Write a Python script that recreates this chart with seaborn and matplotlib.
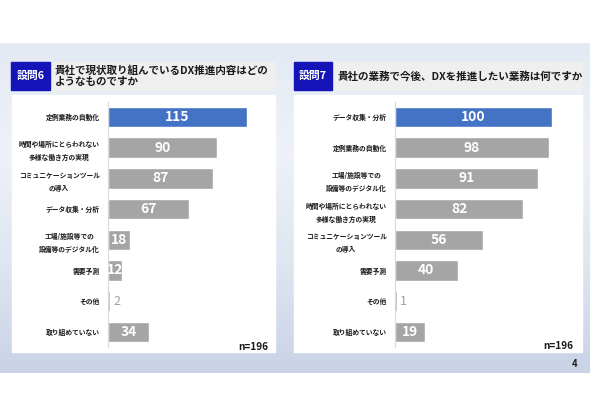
import numpy as np
import matplotlib
matplotlib.use("Agg")
import matplotlib.pyplot as plt
import matplotlib.patches as mpatches
import seaborn as sns

# --- data ---
q6_title = "貴社で現状取り組んでいるDX推進内容はどの\nようなものですか"
q6_items = ["定例業務の自動化", "時間や場所にとらわれない\n多様な働き方の実現",
            "コミュニケーションツール\nの導入", "データ収集・分析",
            "工場/施設等での\n設備等のデジタル化", "需要予測", "その他", "取り組めていない"]
q6_counts = [115, 90, 87, 67, 18, 12, 2, 34]

q7_title = "貴社の業務で今後、DXを推進したい業務は何ですか"
q7_items = ["データ収集・分析", "定例業務の自動化", "工場/施設等での\n設備等のデジタル化",
            "時間や場所にとらわれない\n多様な働き方の実現", "コミュニケーションツール\nの導入",
            "需要予測", "その他", "取り組めていない"]
q7_counts = [100, 98, 91, 82, 56, 40, 1, 19]

n_label = "n=196"
page_no = "4"

sns.set_theme(style="white")
plt.rcParams["font.family"] = ["Noto Sans CJK JP", "DejaVu Sans"]

W, H = 590, 417
fig = plt.figure(figsize=(W / 100, H / 100), dpi=100)
fig.patch.set_facecolor("white")


def fig_rect(x0, y0, x1, y1):
    # pixel box (top-left origin) -> figure fraction [l, b, w, h]
    return [x0 / W, 1 - y1 / H, (x1 - x0) / W, (y1 - y0) / H]


# background layer in pixel coordinates
bg = fig.add_axes([0, 0, 1, 1])
bg.set_xlim(0, W)
bg.set_ylim(H, 0)
bg.axis("off")

grad = np.linspace(0, 1, 100)[:, None]
cmap = matplotlib.colors.LinearSegmentedColormap.from_list(
    "slide", ["#e3eaf4", "#eef2f8", "#dfe6f1", "#c9d3e6"])
bg.imshow(grad, extent=(0, W, 373, 43), aspect="auto", cmap=cmap, zorder=0)

BLUE_BOX = "#1414b8"
TITLE_BG = "#efefef"

panels = [
    dict(box=(11, 62, 50, 90), title_bg=(50, 62, 275, 90), white=(12, 95, 275, 352),
         qnum="設問6", title=q6_title, title_x=55, axis_x=108, right=275,
         n_x=268, n_y=347, items=q6_items, counts=q6_counts),
    dict(box=(294, 62, 332, 90), title_bg=(332, 62, 582, 90), white=(294, 95, 582, 352),
         qnum="設問7", title=q7_title, title_x=338, axis_x=395, right=582,
         n_x=573, n_y=346, items=q7_items, counts=q7_counts),
]

for p in panels:
    x0, y0, x1, y1 = p["white"]
    bg.add_patch(mpatches.Rectangle((x0, y0), x1 - x0, y1 - y0, color="white", zorder=1))
    x0, y0, x1, y1 = p["title_bg"]
    bg.add_patch(mpatches.Rectangle((x0, y0), x1 - x0, y1 - y0, color=TITLE_BG, zorder=1))
    x0, y0, x1, y1 = p["box"]
    bg.add_patch(mpatches.Rectangle((x0, y0), x1 - x0, y1 - y0, color=BLUE_BOX, zorder=2))
    bg.text((x0 + x1) / 2, (y0 + y1) / 2, p["qnum"], color="white", fontsize=7.8,
            fontweight="bold", ha="center", va="center", zorder=3)
    bg.text(p["title_x"], 76, p["title"], color="#1a1a1a", fontsize=7.6,
            fontweight="bold", ha="left", va="center", linespacing=1.05, zorder=3)
    bg.text(p["n_x"], p["n_y"], n_label, color="#1a1a1a", fontsize=7.2,
            fontweight="bold", ha="right", va="center", zorder=3)

bg.text(575, 364, page_no, color="#1a1a1a", fontsize=6.8, fontweight="bold",
        ha="center", va="center")

# bar charts
row_h = 30.7
top_c = 117
for p in panels:
    n = len(p["items"])
    y_top = top_c - row_h / 2
    y_bot = top_c + (n - 1) * row_h + row_h / 2
    ax = fig.add_axes(fig_rect(p["axis_x"], y_top, p["right"], y_bot))
    ax.patch.set_alpha(0)
    colors = ["#4472c4"] + ["#a5a5a5"] * (n - 1)
    sns.barplot(x=p["counts"], y=p["items"], hue=p["items"], palette=colors,
                legend=False, width=0.67, orient="h", ax=ax, saturation=1)
    px_per_unit = 1.206 if p["qnum"] == "設問6" else 1.567
    ax.set_xlim(0, (p["right"] - p["axis_x"]) / px_per_unit)
    ax.set_xlabel("")
    ax.set_ylabel("")
    ax.set_xticks([])
    for s in ["top", "right", "bottom"]:
        ax.spines[s].set_visible(False)
    ax.spines["left"].set_color("#d9d9d9")
    ax.spines["left"].set_linewidth(0.8)
    ax.tick_params(axis="y", length=0, pad=6)
    for lab in ax.get_yticklabels():
        lab.set_fontsize(4.9)
        lab.set_fontweight("bold")
        lab.set_color("#1a1a1a")
        lab.set_linespacing(1.95)
        lab.set_horizontalalignment("right")
        lab.set_multialignment("center")
    for i, v in enumerate(p["counts"]):
        if v >= 10:
            ax.text(v / 2, i, str(v), color="white", fontsize=10, fontweight="bold",
                    ha="center", va="center")
        else:
            ax.annotate(str(v), (v, i), xytext=(2.5, 0), textcoords="offset points",
                        color="#a0a0a0", fontsize=9, ha="left", va="center")

fig.savefig("out.png", dpi=100)
